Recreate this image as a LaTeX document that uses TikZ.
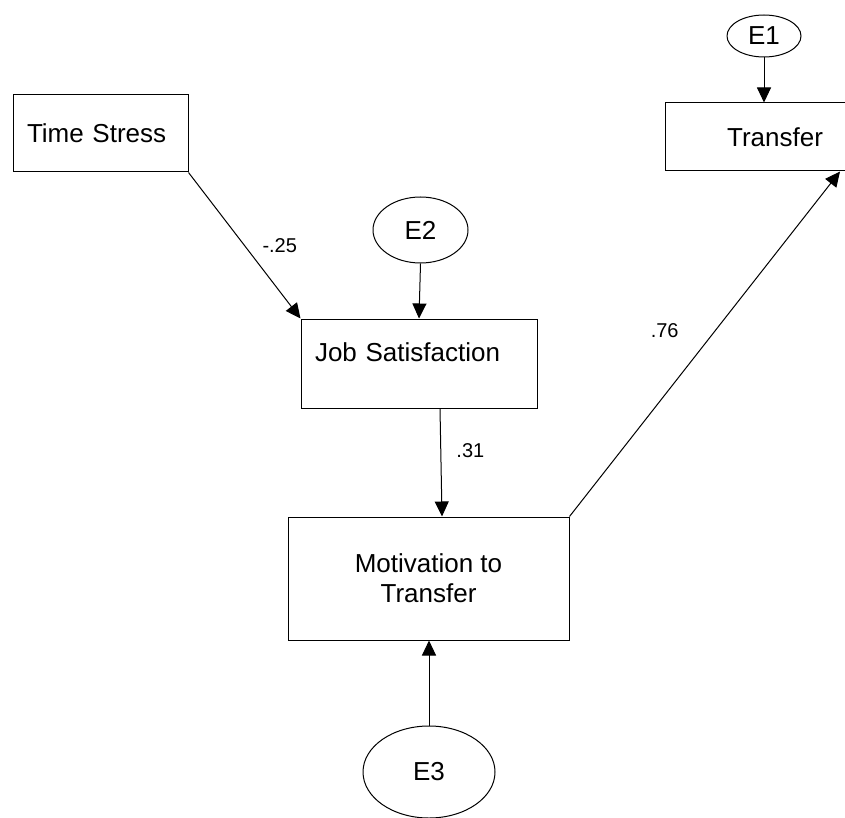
\documentclass[tikz,border=0pt]{standalone}
\usepackage{fontspec}
\setmainfont{Liberation Sans}
\usetikzlibrary{positioning,arrows.meta,shapes}

\begin{document}
\begin{tikzpicture}
	[x=0.5pt,y=-0.5pt,
	every node/.style={font=\fontsize{13}{15}\selectfont},
	box/.style={draw,rectangle,line width=0.5pt,inner sep=0pt},
	errterm/.style={draw,ellipse,line width=0.5pt,inner sep=0pt},
	coef/.style={inner sep=0pt,font=\fontsize{10}{12}\selectfont},
	path/.style={line width=0.5pt,-{Triangle[length=7.5pt,width=7pt]}}]
	\useasboundingbox (0,0) rectangle (845,818);
	% observed variables
	\node[box,minimum width=87.5pt,minimum height=38.5pt,text width=73.5pt,align=left] (stress) at (100.5,133.5) {Time Stress};
	\node[box,minimum width=118pt,minimum height=44.5pt,text width=104pt,text depth=11pt,align=left] (jobsat) at (419,363.5) {Job Satisfaction};
	\node[box,minimum width=140.5pt,minimum height=61.5pt,align=center] (motiv) at (428.5,578.5) {Motivation to\\Transfer};
	\node[box,minimum width=110pt,minimum height=34pt] (transfer) at (775,137) {Transfer};
	% error terms
	\node[errterm,minimum width=37pt,minimum height=21pt] (e1) at (764,36) {E1};
	\node[errterm,minimum width=47.5pt,minimum height=33pt] (e2) at (420.5,230) {E2};
	\node[errterm,minimum width=66pt,minimum height=46pt] (e3) at (429,772) {E3};
	% paths
	\draw[path] (stress.south east) -- node[coef,anchor=west,xshift=8.75pt] {-.25} (jobsat.north west);
	\draw[path] (e2.south) -- (jobsat.north);
	\draw[path] ([xshift=10.5pt]jobsat.south) -- node[coef,pos=0.39,anchor=west,xshift=7.6pt] {.31} ([xshift=6.75pt]motiv.north);
	\draw[path] (motiv.north east) -- node[coef,pos=0.54,anchor=east,xshift=-18.25pt] {.76} ([xshift=32.5pt]transfer.south);
	\draw[path] (e1.south) -- (e1.south |- transfer.north);
	\draw[path] (e3.north) -- (e3.north |- motiv.south);
\end{tikzpicture}
\end{document}
